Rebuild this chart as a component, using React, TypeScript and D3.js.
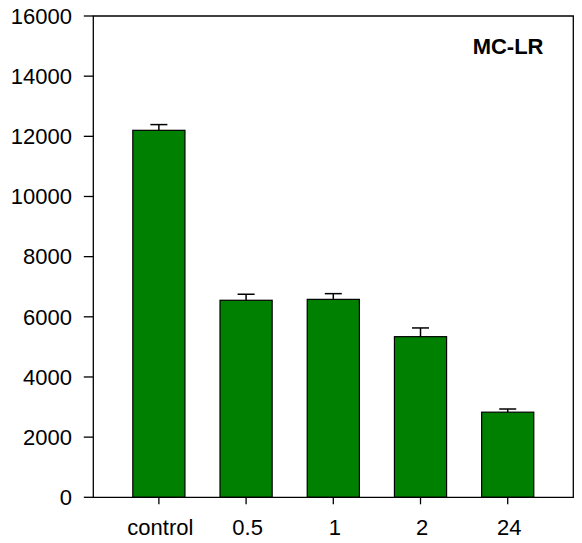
import React from "react";
import * as d3 from "d3";

const categories = ["control", "0.5", "1", "2", "24"];
const values = [12200, 6550, 6580, 5340, 2830];
const errors = [190, 200, 190, 290, 105];
const yTicks = [0, 2000, 4000, 6000, 8000, 10000, 12000, 14000, 16000];
const title = "MC-LR";

export default function App() {
  const W = 582, H = 543;
  const left = 93.3, right = 573.3, top = 16, bottom = 497.3;
  const y = d3.scaleLinear().domain([0, 16000]).range([bottom, top]);
  const x = d3.scalePoint<string>().domain(categories).range([left, right]).padding(0.752);
  const bw = x.step() * 0.598;
  const font = "'Liberation Sans', Arial, sans-serif";
  return (
    <svg width={W} height={H} style={{ position: "absolute", left: 0, top: 0, background: "#fff" }}>
      <rect x={0} y={0} width={W} height={H} fill="#fff" />
      {categories.map((c, i) => {
        const cx = x(c)!;
        const yt = y(values[i]);
        const ye = y(values[i] + errors[i]);
        return (
          <g key={c}>
            <rect x={cx - bw / 2} y={yt} width={bw} height={bottom - yt} fill="#008000" stroke="#000" strokeWidth={1.2} />
            <line x1={cx} x2={cx} y1={yt} y2={ye} stroke="#000" strokeWidth={1.5} />
            <line x1={cx - 8.5} x2={cx + 8.5} y1={ye} y2={ye} stroke="#000" strokeWidth={1.5} />
            <line x1={cx} x2={cx} y1={bottom} y2={bottom + 7} stroke="#000" strokeWidth={1.3} />
            <text x={cx + 1.5} y={534.5} textAnchor="middle" fontFamily={font} fontSize={22} fill="#000">{c}</text>
          </g>
        );
      })}
      <path d={`M${left},${top}H${right}V${bottom}H${left}Z`} fill="none" stroke="#000" strokeWidth={1.3} />
      {yTicks.map((t) => (
        <g key={t}>
          <line x1={left - 9.5} x2={left} y1={y(t)} y2={y(t)} stroke="#000" strokeWidth={1.3} />
          <text x={72} y={y(t) + 7.8} textAnchor="end" fontFamily={font} fontSize={22} fill="#000">{t}</text>
        </g>
      ))}
      <text x={543.5} y={53.5} textAnchor="end" fontFamily={font} fontSize={22} fontWeight="bold" fill="#000">{title}</text>
    </svg>
  );
}
